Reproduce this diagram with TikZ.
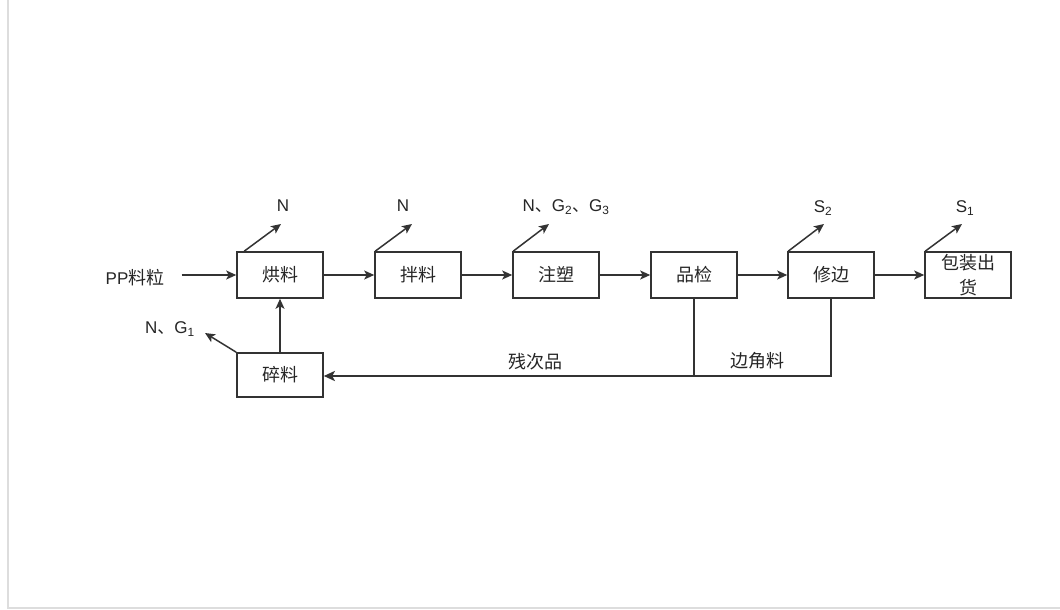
\documentclass[tikz,border=0pt]{standalone}
\usepackage{fontspec}
\setmainfont{Liberation Sans}
\newfontfamily\cjk{Noto Sans CJK SC}
\usetikzlibrary{arrows.meta}
\definecolor{ln}{HTML}{333333}
\definecolor{frame}{HTML}{DDDDDD}
\tikzset{
  box/.style={draw=ln, line width=1.6pt, minimum width=86pt, minimum height=46pt, inner sep=0pt, font=\cjk\fontsize{18}{22}\selectfont, align=center, text=black!85},
  lbl/.style={inner sep=0pt, font=\fontsize{17}{18}\selectfont, text=black!85},
  clbl/.style={inner sep=0pt, font=\cjk\fontsize{18}{20}\selectfont, text=black!85},
  arr/.style={draw=ln, line width=1.5pt, -{Stealth[length=10pt,width=9pt,inset=2.5pt]}},
  flow/.style={draw=ln, line width=1.5pt},
  thickarr/.style={draw=ln, line width=2.6pt, -{Stealth[length=11pt,width=10pt,inset=2.5pt]}}
}
\begin{document}
\begin{tikzpicture}[x=1pt,y=-1pt]
\useasboundingbox (0,0) rectangle (1060,610);
\fill[white] (0,0) rectangle (1060,610);
\draw[frame, line width=2pt] (8,0) -- (8,608) -- (1060,608);

\node[box] (hl) at (280,275) {烘料};
\node[box] (bl) at (418,275) {拌料};
\node[box] (zs) at (556,275) {注塑};
\node[box] (pj) at (694,275) {品检};
\node[box] (xb) at (831,275) {修边};
\node[box] (bz) at (968,275) {包装出\\[3pt]货};
\node[box, minimum height=44pt] (sl) at (280,375) {碎料};

\node[clbl] (pp) at (135,278) {{\fontspec{Liberation Sans}\fontsize{17}{18}\selectfont PP}料粒};

\draw[arr] ([xshift=17pt]pp.east |- hl.west) -- (hl.west);
\draw[arr] (hl) -- (bl);
\draw[arr] (bl) -- (zs);
\draw[arr] (zs) -- (pj);
\draw[arr] (pj) -- (xb);
\draw[arr] (xb) -- (bz);
\draw[arr] (sl) -- (hl);

% emissions
\coordinate (e1) at (281,224);
\coordinate (e2) at (412,224);
\coordinate (e3) at (549,224);
\coordinate (e4) at (824,224);
\coordinate (e5) at (962,224);
\coordinate (e6) at (205,333);
\draw[arr] ([xshift=8pt]hl.north west) -- (e1);
\draw[arr] ([xshift=1pt]bl.north west) -- (e2);
\draw[arr] ([xshift=1pt]zs.north west) -- (e3);
\draw[arr] ([xshift=1pt]xb.north west) -- (e4);
\draw[arr] ([xshift=1pt]bz.north west) -- (e5);
\draw[arr] (sl.north west) -- (e6);

\node[lbl] (n1) at (283,206) {N};
\node[lbl] (n2) at (403,206) {N};
\node[lbl] (n3) at (566,207) {N{\cjk 、}G\textsubscript{2}{\cjk 、}G\textsubscript{3}};
\node[lbl] (n4) at (823,208) {S\textsubscript{2}};
\node[lbl] (n5) at (965,208) {S\textsubscript{1}};
\node[lbl] (n6) at (170,329) {N{\cjk 、}G\textsubscript{1}};

% feedback
\coordinate (j1) at (694,376);
\coordinate (j2) at (831,376);
\draw[flow] (pj.south) -- (j1);
\draw[flow] (xb.south) -- (j2) -- (j1);
\draw[thickarr] (j1) -- (sl.east |- j1);

\node[clbl] (cc) at (535,362) {残次品};
\node[clbl] (bj) at (757,361) {边角料};
\end{tikzpicture}
\end{document}
